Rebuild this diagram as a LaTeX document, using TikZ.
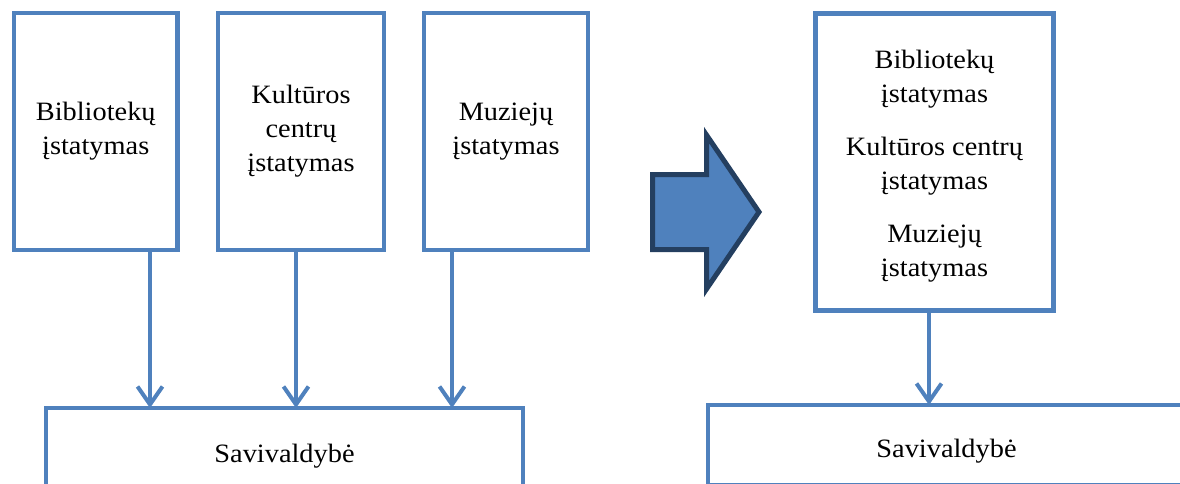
\documentclass[tikz,border=0pt]{standalone}
\usepackage{fontspec}
\setmainfont[FakeStretch=1.07]{Liberation Serif}
\usetikzlibrary{arrows.meta}
\definecolor{boxblue}{HTML}{4F81BD}
\definecolor{navy}{HTML}{243F60}
\begin{document}
\begin{tikzpicture}[x=1pt,y=-1pt,
  box/.style={draw=boxblue, line width=4.5pt, outer sep=0pt, inner sep=0pt, align=center, font=\fontsize{26.5}{34}\selectfont},
  lbl/.style={align=center, font=\fontsize{26.5}{34}\selectfont, inner sep=0pt},
  conn/.style={draw=boxblue, line width=4pt, -{Straight Barb[length=18pt,width=25pt]}},
  bigarrow/.style={fill=boxblue, draw=navy, line width=5pt, line join=miter}]
\clip (0,0) rectangle (1180,484);
% left group
\node[box, minimum width=163.5pt, minimum height=237pt] (bib) at (95.75,131.5) {Bibliotekų\\įstatymas};
\node[box, minimum width=166pt, minimum height=237pt] (kul) at (301,131.5) {Kultūros\\centrų\\įstatymas};
\node[box, minimum width=164pt, minimum height=237pt] (muz) at (506,131.5) {Muziejų\\įstatymas};
\node[box, minimum width=477pt, minimum height=96pt] (sav1) at (284.5,456) {Savivaldybė};
\coordinate (x1) at (150,0);
\coordinate (x2) at (296,0);
\coordinate (x3) at (452,0);
\draw[conn] (bib.south -| x1) -- (sav1.north -| x1);
\draw[conn] (kul.south -| x2) -- (sav1.north -| x2);
\draw[conn] (muz.south -| x3) -- (sav1.north -| x3);
% big arrow
\draw[bigarrow] (652.5,174.5) -- (706.5,174.5) -- (706.5,135) -- (759,212) -- (706.5,289) -- (706.5,249.5) -- (652.5,249.5) -- cycle;
% right group
\node[box, minimum width=238pt, minimum height=297pt] (all) at (934.5,162) {};
\node[lbl] (allt) at (934.5,166) {Bibliotekų\\įstatymas\\[19pt]Kultūros centrų\\įstatymas\\[19pt]Muziejų\\įstatymas};
\node[box, minimum width=492pt, minimum height=80pt] (sav2) at (954,445) {};
\node[lbl] (sav2t) at (946.5,451) {Savivaldybė};
\coordinate (x4) at (929,0);
\draw[conn] (all.south -| x4) -- (sav2.north -| x4);
\end{tikzpicture}
\end{document}
